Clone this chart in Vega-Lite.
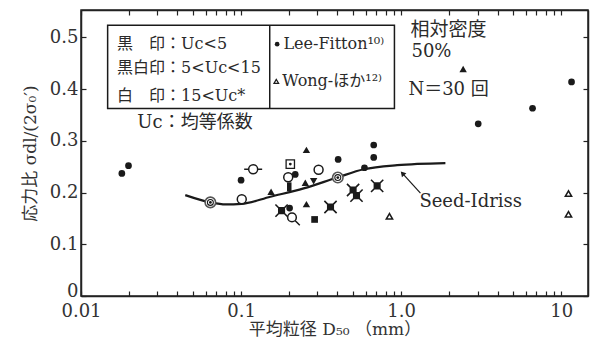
{
  "$schema": "https://vega.github.io/schema/vega-lite/v6.json",
  "width": 507,
  "height": 286,
  "autosize": {"type": "none"},
  "padding": {"left": 81, "top": 10, "right": 7, "bottom": 47},
  "background": "white",
  "config": {
    "view": {"stroke": "#222", "strokeWidth": 1.5},
    "font": "DejaVu Serif, Noto Sans CJK JP",
    "text": {"font": "DejaVu Serif, Noto Sans CJK JP", "fontSize": 16, "color": "#2a2a2a", "align": "left", "baseline": "middle"}
  },
  "datasets": {
    "pts": [
      {"d": 0.018, "r": 0.237, "type": "lee"},
      {"d": 0.0198, "r": 0.252, "type": "lee"},
      {"d": 0.1, "r": 0.224, "type": "lee"},
      {"d": 0.674, "r": 0.292, "type": "lee"},
      {"d": 0.674, "r": 0.268, "type": "lee"},
      {"d": 0.404, "r": 0.264, "type": "lee"},
      {"d": 0.218, "r": 0.235, "type": "lee"},
      {"d": 0.59, "r": 0.248, "type": "lee"},
      {"d": 0.201, "r": 0.17, "type": "lee"},
      {"d": 3.03, "r": 0.333, "type": "lee"},
      {"d": 6.62, "r": 0.363, "type": "lee"},
      {"d": 11.6, "r": 0.414, "type": "lee"},
      {"d": 0.256, "r": 0.2825, "type": "tri"},
      {"d": 0.154, "r": 0.2016, "type": "tri"},
      {"d": 0.252, "r": 0.219, "type": "tri"},
      {"d": 0.256, "r": 0.1777, "type": "tri"},
      {"d": 2.44, "r": 0.439, "type": "tri"},
      {"d": 0.284, "r": 0.222, "type": "tridown"},
      {"d": 0.305, "r": 0.244, "type": "open"},
      {"d": 0.101, "r": 0.187, "type": "open"},
      {"d": 0.197, "r": 0.2295, "type": "open"},
      {"d": 0.119, "r": 0.245, "type": "openbar"},
      {"d": 0.208, "r": 0.152, "type": "opentail"},
      {"d": 0.0643, "r": 0.181, "type": "double"},
      {"d": 0.402, "r": 0.229, "type": "double"},
      {"d": 0.203, "r": 0.255, "type": "sqdot"},
      {"d": 0.288, "r": 0.148, "type": "sq"},
      {"d": 0.2, "r": 0.211, "type": "bar"},
      {"d": 0.179, "r": 0.165, "type": "xsq"},
      {"d": 0.362, "r": 0.172, "type": "xsq"},
      {"d": 0.501, "r": 0.205, "type": "xsq"},
      {"d": 0.526, "r": 0.194, "type": "xsq"},
      {"d": 0.708, "r": 0.213, "type": "xsq"},
      {"d": 0.845, "r": 0.154, "type": "wong"},
      {"d": 11.1, "r": 0.198, "type": "wong"},
      {"d": 11.1, "r": 0.158, "type": "wong"}
    ],
    "curve": [
      {"d": 0.0448, "r": 0.195},
      {"d": 0.0643, "r": 0.181},
      {"d": 0.08, "r": 0.177},
      {"d": 0.1006, "r": 0.178},
      {"d": 0.1525, "r": 0.192},
      {"d": 0.246, "r": 0.208},
      {"d": 0.398, "r": 0.229},
      {"d": 0.584, "r": 0.245},
      {"d": 0.944, "r": 0.253},
      {"d": 1.89, "r": 0.257}
    ],
    "one": [{}]
  },
  "resolve": {"axis": {"x": "independent", "y": "independent"}},
  "layer": [
    {
      "data": {"name": "curve"},
      "mark": {"type": "line", "interpolate": "monotone", "stroke": "#1a1a1a", "strokeWidth": 2.2},
      "encoding": {
        "x": {
          "field": "d", "type": "quantitative",
          "scale": {"type": "log", "domain": [0.01, 14.7], "nice": false},
          "axis": {
            "orient": "bottom",
            "values": [0.01,0.02,0.03,0.04,0.05,0.06,0.07,0.08,0.09,0.1,0.2,0.3,0.4,0.5,0.6,0.7,0.8,0.9,1,2,3,4,5,6,7,8,9,10],
            "labelExpr": "datum.value == 0.01 ? '0.01' : datum.value == 0.1 ? '0.1' : datum.value == 1 ? '1.0' : datum.value == 10 ? '10' : ''",
            "labelOverlap": false, "labelFlush": false,
            "tickSize": -5, "tickColor": "#222", "tickWidth": 1.2,
            "domainColor": "#222", "domainWidth": 1.5, "grid": false,
            "labelFont": "DejaVu Serif", "labelFontSize": 18, "labelColor": "#333", "labelPadding": 11,
            "title": "平均粒径 D₅₀ （mm）", "titleFont": "DejaVu Serif, Noto Sans CJK JP",
            "titleFontSize": 17, "titleFontWeight": "normal", "titleColor": "#333", "titlePadding": 1
          }
        },
        "y": {
          "field": "r", "type": "quantitative",
          "scale": {"domain": [0, 0.553], "nice": false, "zero": false},
          "axis": {
            "orient": "left",
            "values": [0, 0.1, 0.2, 0.3, 0.4, 0.5],
            "labelExpr": "datum.value == 0 ? '0' : format(datum.value, '.1f')",
            "labelBaseline": {"condition": {"test": "datum.value == 0", "value": "alphabetic"}, "value": "middle"},
            "tickSize": -5, "tickColor": "#222", "tickWidth": 1.2,
            "domainColor": "#222", "domainWidth": 1.5, "grid": false,
            "labelFont": "DejaVu Serif", "labelFontSize": 18, "labelColor": "#333", "labelPadding": 8,
            "title": "応力比 σdl/(2σ₀′)", "titleFont": "DejaVu Serif, Noto Sans CJK JP",
            "titleFontSize": 17, "titleFontWeight": "normal", "titleColor": "#333", "titlePadding": 10
          }
        }
      }
    },
    {
      "data": {"name": "pts"},
      "transform": [{"filter": "datum.type == 'lee'"}],
      "mark": {"type": "point", "shape": "circle", "filled": true, "color": "#1a1a1a", "size": 45, "opacity": 1},
      "encoding": {
        "x": {
          "field": "d", "type": "quantitative",
          "axis": {
            "orient": "top", "labels": false, "title": null,
            "values": [0.01,0.02,0.03,0.04,0.05,0.06,0.07,0.08,0.09,0.1,0.2,0.3,0.4,0.5,0.6,0.7,0.8,0.9,1,2,3,4,5,6,7,8,9,10],
            "tickSize": -5, "tickColor": "#222", "tickWidth": 1.2,
            "domainColor": "#222", "domainWidth": 1.5, "grid": false
          }
        },
        "y": {
          "field": "r", "type": "quantitative",
          "axis": {
            "orient": "right", "labels": false, "title": null,
            "values": [0, 0.1, 0.2, 0.3, 0.4, 0.5],
            "tickSize": -5, "tickColor": "#222", "tickWidth": 1.2,
            "domainColor": "#222", "domainWidth": 1.5, "grid": false
          }
        }
      }
    },
    {
      "data": {"name": "pts"},
      "transform": [{"filter": "datum.type == 'tri'"}],
      "mark": {"type": "point", "shape": "triangle-up", "filled": true, "color": "#1a1a1a", "size": 55, "opacity": 1},
      "encoding": {"x": {"field": "d", "type": "quantitative", "axis": null}, "y": {"field": "r", "type": "quantitative", "axis": null}}
    },
    {
      "data": {"name": "pts"},
      "transform": [{"filter": "datum.type == 'tridown'"}],
      "mark": {"type": "point", "shape": "triangle-down", "filled": true, "color": "#1a1a1a", "size": 55, "opacity": 1},
      "encoding": {"x": {"field": "d", "type": "quantitative", "axis": null}, "y": {"field": "r", "type": "quantitative", "axis": null}}
    },
    {
      "data": {"name": "pts"},
      "transform": [{"filter": "datum.type == 'sq'"}],
      "mark": {"type": "point", "shape": "square", "filled": true, "color": "#1a1a1a", "size": 45, "opacity": 1},
      "encoding": {"x": {"field": "d", "type": "quantitative", "axis": null}, "y": {"field": "r", "type": "quantitative", "axis": null}}
    },
    {
      "data": {"name": "pts"},
      "transform": [{"filter": "datum.type == 'bar'"}],
      "mark": {"type": "point", "shape": "M-0.5,-1H0.5V1H-0.5Z", "filled": true, "color": "#1a1a1a", "size": 81, "opacity": 1},
      "encoding": {"x": {"field": "d", "type": "quantitative", "axis": null}, "y": {"field": "r", "type": "quantitative", "axis": null}}
    },
    {
      "data": {"name": "pts"},
      "transform": [{"filter": "datum.type == 'xsq'"}],
      "mark": {"type": "point", "shape": "M-0.45,-0.45H0.45V0.45H-0.45Z M-1,-1L1,1M1,-1L-1,1", "filled": true, "fill": "#1a1a1a", "stroke": "#1a1a1a", "strokeWidth": 1.6, "size": 150, "opacity": 1},
      "encoding": {"x": {"field": "d", "type": "quantitative", "axis": null}, "y": {"field": "r", "type": "quantitative", "axis": null}}
    },
    {
      "data": {"name": "pts"},
      "transform": [{"filter": "datum.type == 'open'"}],
      "mark": {"type": "point", "shape": "circle", "filled": true, "fill": "white", "stroke": "#1a1a1a", "strokeWidth": 1.5, "size": 80, "opacity": 1},
      "encoding": {"x": {"field": "d", "type": "quantitative", "axis": null}, "y": {"field": "r", "type": "quantitative", "axis": null}}
    },
    {
      "data": {"name": "pts"},
      "transform": [{"filter": "datum.type == 'openbar'"}],
      "mark": {"type": "point", "shape": "M-0.5,0A0.5,0.5,0,1,1,0.5,0A0.5,0.5,0,1,1,-0.5,0Z M-1,0L-0.5,0 M0.5,0L1,0", "filled": true, "fill": "white", "stroke": "#1a1a1a", "strokeWidth": 1.5, "size": 324, "opacity": 1},
      "encoding": {"x": {"field": "d", "type": "quantitative", "axis": null}, "y": {"field": "r", "type": "quantitative", "axis": null}}
    },
    {
      "data": {"name": "pts"},
      "transform": [{"filter": "datum.type == 'opentail'"}],
      "mark": {"type": "point", "shape": "M-0.5,0A0.5,0.5,0,1,1,0.5,0A0.5,0.5,0,1,1,-0.5,0Z M0.35,0.35L0.9,0.9", "filled": true, "fill": "white", "stroke": "#1a1a1a", "strokeWidth": 1.5, "size": 300, "opacity": 1},
      "encoding": {"x": {"field": "d", "type": "quantitative", "axis": null}, "y": {"field": "r", "type": "quantitative", "axis": null}}
    },
    {
      "data": {"name": "pts"},
      "transform": [{"filter": "datum.type == 'double'"}],
      "mark": {"type": "point", "shape": "circle", "filled": true, "fill": "white", "stroke": "#555", "strokeWidth": 1.6, "size": 110, "opacity": 1},
      "encoding": {"x": {"field": "d", "type": "quantitative", "axis": null}, "y": {"field": "r", "type": "quantitative", "axis": null}}
    },
    {
      "data": {"name": "pts"},
      "transform": [{"filter": "datum.type == 'double'"}],
      "mark": {"type": "point", "shape": "circle", "filled": false, "stroke": "#1a1a1a", "strokeWidth": 1.1, "size": 35, "opacity": 1},
      "encoding": {"x": {"field": "d", "type": "quantitative", "axis": null}, "y": {"field": "r", "type": "quantitative", "axis": null}}
    },
    {
      "data": {"name": "pts"},
      "transform": [{"filter": "datum.type == 'sqdot'"}],
      "mark": {"type": "point", "shape": "square", "filled": true, "fill": "white", "stroke": "#1a1a1a", "strokeWidth": 1.3, "size": 70, "opacity": 1},
      "encoding": {"x": {"field": "d", "type": "quantitative", "axis": null}, "y": {"field": "r", "type": "quantitative", "axis": null}}
    },
    {
      "data": {"name": "pts"},
      "transform": [{"filter": "datum.type == 'double' || datum.type == 'sqdot'"}],
      "mark": {"type": "point", "shape": "circle", "filled": true, "color": "#1a1a1a", "size": 8, "opacity": 1},
      "encoding": {"x": {"field": "d", "type": "quantitative", "axis": null}, "y": {"field": "r", "type": "quantitative", "axis": null}}
    },
    {
      "data": {"name": "pts"},
      "transform": [{"filter": "datum.type == 'wong'"}],
      "mark": {"type": "point", "shape": "triangle-up", "filled": true, "fill": "white", "stroke": "#1a1a1a", "strokeWidth": 1.5, "size": 40, "opacity": 1},
      "encoding": {"x": {"field": "d", "type": "quantitative", "axis": null}, "y": {"field": "r", "type": "quantitative", "axis": null}}
    },
    {
      "data": {"name": "one"},
      "mark": {"type": "rule", "stroke": "#1a1a1a", "strokeWidth": 1.2},
      "encoding": {
        "x": {"datum": 1.32, "type": "quantitative", "axis": null}, "x2": {"datum": 1.019},
        "y": {"datum": 0.199, "type": "quantitative", "axis": null}, "y2": {"datum": 0.237}
      }
    },
    {
      "data": {"name": "one"},
      "mark": {"type": "point", "shape": "triangle-up", "filled": true, "color": "#1a1a1a", "size": 35, "angle": 318, "opacity": 1},
      "encoding": {"x": {"datum": 1.019, "type": "quantitative", "axis": null}, "y": {"datum": 0.237, "type": "quantitative", "axis": null}}
    },
    {
      "data": {"name": "one"},
      "mark": {"type": "text", "text": "Seed-Idriss", "fontSize": 18},
      "encoding": {"x": {"datum": 1.3, "type": "quantitative", "axis": null}, "y": {"datum": 0.1825, "type": "quantitative", "axis": null}}
    },
    {
      "data": {"name": "one"},
      "mark": {"type": "rect", "fill": "white", "fillOpacity": 0, "stroke": "#1a1a1a", "strokeWidth": 1.5},
      "encoding": {
        "x": {"datum": 0.01467, "type": "quantitative", "axis": null}, "x2": {"datum": 0.908},
        "y": {"datum": 0.3627, "type": "quantitative", "axis": null}, "y2": {"datum": 0.5233}
      }
    },
    {
      "data": {"name": "one"},
      "mark": {"type": "rule", "stroke": "#1a1a1a", "strokeWidth": 1.5},
      "encoding": {
        "x": {"datum": 0.151, "type": "quantitative", "axis": null},
        "y": {"datum": 0.3627, "type": "quantitative", "axis": null}, "y2": {"datum": 0.5233}
      }
    },
    {
      "data": {"name": "one"},
      "mark": {"type": "text", "text": "黒　印：Uc<5"},
      "encoding": {"x": {"datum": 0.0168, "type": "quantitative", "axis": null}, "y": {"datum": 0.488, "type": "quantitative", "axis": null}}
    },
    {
      "data": {"name": "one"},
      "mark": {"type": "text", "text": "黒白印：5<Uc<15"},
      "encoding": {"x": {"datum": 0.0168, "type": "quantitative", "axis": null}, "y": {"datum": 0.44, "type": "quantitative", "axis": null}}
    },
    {
      "data": {"name": "one"},
      "mark": {"type": "text", "text": "白　印：15<Uc*"},
      "encoding": {"x": {"datum": 0.0168, "type": "quantitative", "axis": null}, "y": {"datum": 0.386, "type": "quantitative", "axis": null}}
    },
    {
      "data": {"name": "one"},
      "mark": {"type": "text", "text": "Uc：均等係数", "fontSize": 18},
      "encoding": {"x": {"datum": 0.0225, "type": "quantitative", "axis": null}, "y": {"datum": 0.335, "type": "quantitative", "axis": null}}
    },
    {
      "data": {"name": "one"},
      "mark": {"type": "point", "shape": "circle", "filled": true, "color": "#1a1a1a", "size": 22, "opacity": 1},
      "encoding": {"x": {"datum": 0.168, "type": "quantitative", "axis": null}, "y": {"datum": 0.487, "type": "quantitative", "axis": null}}
    },
    {
      "data": {"name": "one"},
      "mark": {"type": "point", "shape": "triangle-up", "filled": true, "fill": "white", "stroke": "#1a1a1a", "strokeWidth": 1.2, "size": 22, "opacity": 1},
      "encoding": {"x": {"datum": 0.166, "type": "quantitative", "axis": null}, "y": {"datum": 0.415, "type": "quantitative", "axis": null}}
    },
    {
      "data": {"name": "one"},
      "mark": {"type": "text", "text": "Lee-Fitton¹⁰⁾", "fontSize": 16},
      "encoding": {"x": {"datum": 0.184, "type": "quantitative", "axis": null}, "y": {"datum": 0.487, "type": "quantitative", "axis": null}}
    },
    {
      "data": {"name": "one"},
      "mark": {"type": "text", "text": "Wong-ほか¹²⁾", "fontSize": 16},
      "encoding": {"x": {"datum": 0.181, "type": "quantitative", "axis": null}, "y": {"datum": 0.415, "type": "quantitative", "axis": null}}
    },
    {
      "data": {"name": "one"},
      "mark": {"type": "text", "text": "相対密度", "fontSize": 19},
      "encoding": {"x": {"datum": 1.143, "type": "quantitative", "axis": null}, "y": {"datum": 0.5136, "type": "quantitative", "axis": null}}
    },
    {
      "data": {"name": "one"},
      "mark": {"type": "text", "text": "50%", "fontSize": 18},
      "encoding": {"x": {"datum": 1.16, "type": "quantitative", "axis": null}, "y": {"datum": 0.471, "type": "quantitative", "axis": null}}
    },
    {
      "data": {"name": "one"},
      "mark": {"type": "text", "text": "N＝30 回", "fontSize": 18},
      "encoding": {"x": {"datum": 1.11, "type": "quantitative", "axis": null}, "y": {"datum": 0.399, "type": "quantitative", "axis": null}}
    }
  ]
}
